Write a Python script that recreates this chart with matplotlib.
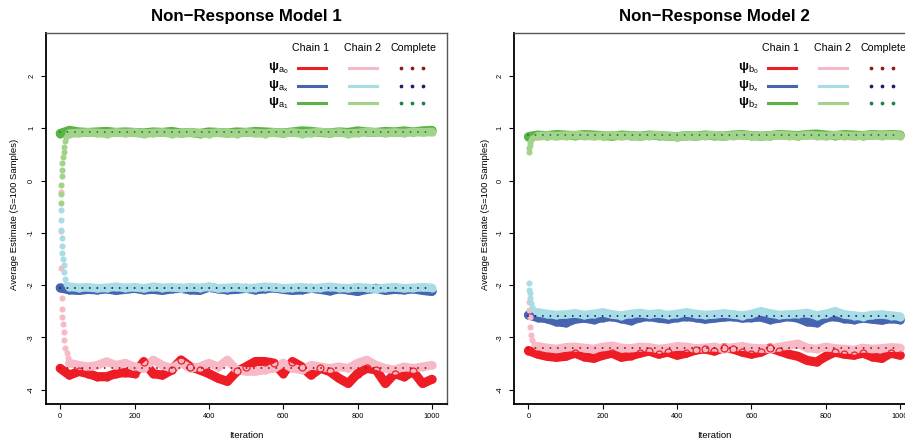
import numpy as np
import matplotlib
matplotlib.use("Agg")
import matplotlib.pyplot as plt
from matplotlib.lines import Line2D

plt.rcParams['font.family'] = ['Liberation Sans', 'DejaVu Sans']
plt.rcParams['mathtext.fontset'] = 'custom'
plt.rcParams['mathtext.rm'] = 'Liberation Sans'
plt.rcParams['mathtext.it'] = 'Liberation Sans:italic'
plt.rcParams['mathtext.bf'] = 'Liberation Sans:bold'
plt.rcParams['lines.scale_dashes'] = False

# ---------------- data ----------------
ITER = list(range(0, 1001, 25))          # chain 1 sampled iterations
ITER2 = ITER[1:]                          # chain 2 (after burn-in transient)

# Model 1
m1_early_it = [1, 2, 3, 4, 5, 6, 7, 9, 11, 13, 16, 20]
m1_early_it_a0 = [1, 2, 3, 4, 5, 6, 7, 9, 11, 14, 17, 21]
m1_a0_c1 = [-3.59, -3.72, -3.65, -3.69, -3.75, -3.75, -3.69, -3.67, -3.69, -3.46, -3.69,
            -3.72, -3.62, -3.43, -3.56, -3.62, -3.69, -3.78, -3.84, -3.65, -3.56, -3.46,
            -3.46, -3.49, -3.69, -3.46, -3.56, -3.72, -3.59, -3.65, -3.78, -3.88, -3.69,
            -3.59, -3.62, -3.88, -3.69, -3.75, -3.65, -3.88, -3.80]
m1_a0_c2_early = [-0.21, -0.97, -1.68, -2.25, -2.45, -2.60, -2.75, -2.90, -3.05, -3.20, -3.30, -3.40]
m1_a0_c2 = [-3.49, -3.53, -3.56, -3.53, -3.46, -3.53, -3.49, -3.56, -3.59, -3.43, -3.53,
            -3.59, -3.49, -3.59, -3.56, -3.49, -3.56, -3.43, -3.62, -3.65, -3.65, -3.62,
            -3.59, -3.49, -3.59, -3.62, -3.53, -3.56, -3.59, -3.56, -3.59, -3.49, -3.43,
            -3.53, -3.59, -3.62, -3.56, -3.59, -3.56, -3.53]
m1_a0_complete = -3.58

m1_ax_c1 = [-2.05, -2.09, -2.10, -2.08, -2.09, -2.07, -2.10, -2.08, -2.06, -2.09, -2.08,
            -2.10, -2.07, -2.06, -2.09, -2.10, -2.04, -2.07, -2.09, -2.08, -2.06, -2.09,
            -2.07, -2.05, -2.08, -2.10, -2.09, -2.06, -2.08, -2.11, -2.07, -2.09, -2.12,
            -2.08, -2.06, -2.10, -2.08, -2.09, -2.07, -2.10, -2.12]
m1_ax_c2_early = [-0.56, -0.75, -0.94, -1.10, -1.26, -1.39, -1.50, -1.62, -1.75, -1.88, -1.97, -2.00]
m1_ax_c2 = [-2.03, -2.05, -2.04, -2.06, -2.05, -2.03, -2.05, -2.04, -2.06, -2.03, -2.05,
            -2.04, -2.06, -2.04, -2.05, -2.03, -2.06, -2.05, -2.04, -2.06, -2.05, -2.03,
            -2.04, -2.06, -2.05, -2.04, -2.06, -2.05, -2.03, -2.05, -2.06, -2.04, -2.05,
            -2.07, -2.05, -2.04, -2.06, -2.05, -2.04, -2.05]
m1_ax_complete = -2.05

m1_a1_c1 = [0.90, 0.96, 0.93, 0.92, 0.93, 0.94, 0.92, 0.93, 0.92, 0.91, 0.93, 0.92, 0.94,
            0.91, 0.92, 0.90, 0.93, 0.92, 0.91, 0.93, 0.92, 0.94, 0.93, 0.92, 0.91, 0.93,
            0.95, 0.94, 0.92, 0.91, 0.93, 0.92, 0.95, 0.93, 0.92, 0.94, 0.93, 0.95, 0.93,
            0.95, 0.96]
m1_a1_c2_early = [-0.42, -0.25, -0.08, 0.08, 0.20, 0.33, 0.45, 0.55, 0.65, 0.75, 0.83, 0.88]
m1_a1_c2 = [0.90, 0.91, 0.92, 0.91, 0.90, 0.92, 0.91, 0.92, 0.90, 0.91, 0.92, 0.90, 0.91,
            0.92, 0.91, 0.90, 0.92, 0.91, 0.90, 0.92, 0.91, 0.90, 0.92, 0.91, 0.92, 0.90,
            0.91, 0.93, 0.91, 0.92, 0.90, 0.91, 0.93, 0.92, 0.91, 0.92, 0.91, 0.93, 0.92,
            0.93]
m1_a1_complete = 0.92

# Model 2
m2_early_it = [1, 2, 3, 5, 7, 10, 14, 19]
m2_b0_c1 = [-3.25, -3.32, -3.36, -3.38, -3.36, -3.30, -3.37, -3.40, -3.34, -3.30, -3.38,
            -3.35, -3.30, -3.26, -3.32, -3.28, -3.34, -3.30, -3.24, -3.22, -3.26, -3.20,
            -3.22, -3.28, -3.32, -3.28, -3.20, -3.26, -3.32, -3.36, -3.44, -3.47, -3.36,
            -3.28, -3.32, -3.34, -3.30, -3.37, -3.40, -3.30, -3.34]
m2_b0_c2_early = [-2.32, -2.48, -2.60, -2.80, -2.95, -3.05, -3.12, -3.15]
m2_b0_c2 = [-3.17, -3.20, -3.22, -3.19, -3.18, -3.20, -3.22, -3.18, -3.16, -3.20, -3.21,
            -3.18, -3.19, -3.22, -3.20, -3.17, -3.18, -3.21, -3.20, -3.18, -3.22, -3.19,
            -3.17, -3.20, -3.21, -3.22, -3.18, -3.15, -3.12, -3.20, -3.22, -3.18, -3.21,
            -3.22, -3.24, -3.20, -3.22, -3.21, -3.19, -3.20]
m2_b0_complete = -3.21

m2_bx_c1 = [-2.57, -2.62, -2.64, -2.70, -2.72, -2.65, -2.63, -2.66, -2.62, -2.60, -2.64,
            -2.68, -2.62, -2.60, -2.63, -2.65, -2.62, -2.60, -2.62, -2.65, -2.63, -2.61,
            -2.60, -2.63, -2.62, -2.61, -2.66, -2.63, -2.60, -2.63, -2.70, -2.72, -2.62,
            -2.60, -2.64, -2.66, -2.63, -2.65, -2.67, -2.64, -2.66]
m2_bx_c2_early = [-1.96, -2.10, -2.15, -2.25, -2.35, -2.42, -2.47, -2.50]
m2_bx_c2 = [-2.52, -2.55, -2.57, -2.56, -2.54, -2.57, -2.55, -2.52, -2.56, -2.58, -2.55,
            -2.53, -2.56, -2.54, -2.57, -2.55, -2.52, -2.55, -2.57, -2.56, -2.54, -2.56,
            -2.58, -2.55, -2.50, -2.54, -2.57, -2.56, -2.55, -2.53, -2.58, -2.55, -2.50,
            -2.56, -2.58, -2.60, -2.57, -2.56, -2.58, -2.60]
m2_bx_complete = -2.59

m2_b2_c1 = [0.84, 0.87, 0.86, 0.88, 0.87, 0.86, 0.88, 0.87, 0.86, 0.85, 0.87, 0.86, 0.85,
            0.87, 0.86, 0.85, 0.84, 0.86, 0.85, 0.87, 0.86, 0.85, 0.87, 0.88, 0.86, 0.85,
            0.86, 0.88, 0.87, 0.86, 0.88, 0.89, 0.87, 0.86, 0.88, 0.87, 0.86, 0.88, 0.87,
            0.88, 0.87]
m2_b2_c2_early = [0.55, 0.62, 0.68, 0.74, 0.78, 0.81, 0.83, 0.84]
m2_b2_c2 = [0.85, 0.86, 0.85, 0.86, 0.87, 0.86, 0.85, 0.86, 0.87, 0.85, 0.86, 0.85, 0.86,
            0.87, 0.85, 0.84, 0.86, 0.85, 0.86, 0.87, 0.85, 0.86, 0.87, 0.86, 0.85, 0.86,
            0.87, 0.86, 0.85, 0.87, 0.86, 0.85, 0.87, 0.86, 0.85, 0.86, 0.87, 0.86, 0.87,
            0.86]
m2_b2_complete = 0.87

titles = ["Non\u2212Response Model 1", "Non\u2212Response Model 2"]
legend_header = ["Chain 1", "Chain 2", "Complete"]
labels_m1 = [r'$\mathbf{\psi}_{\mathrm{a}_{\mathrm{0}}}$', r'$\mathbf{\psi}_{\mathrm{a}_{\mathrm{x}}}$',
             r'$\mathbf{\psi}_{\mathrm{a}_{\mathrm{1}}}$']
labels_m2 = [r'$\mathbf{\psi}_{\mathrm{b}_{\mathrm{0}}}$', r'$\mathbf{\psi}_{\mathrm{b}_{\mathrm{x}}}$',
             r'$\mathbf{\psi}_{\mathrm{b}_{\mathrm{2}}}$']
xticks = [0, 200, 400, 600, 800, 1000]
yticks = [-4, -3, -2, -1, 0, 1, 2]

# colours: (chain1, chain2, complete)
COLS = [("#EE1D25", "#F7B9C6", "#8E1B1B"),
        ("#4565B0", "#A9DDE6", "#1E1E6A"),
        ("#5AB443", "#A3D38B", "#1C8048")]

W, H = 905, 441
fig = plt.figure(figsize=(W / 100, H / 100), dpi=100)


def fx(px):
    return px / W


def fy(py):
    return 1 - py / H


def draw_panel(left_px, series, title, labels, leg_x, ylab_x):
    ax = fig.add_axes([fx(left_px), fy(404), 401 / W, (404 - 33) / H])
    ax.set_xlim(-39, 1040)
    ax.set_ylim(-4.272, 2.822)
    for k, ((c1, c2e_it, c2e, c2, comp), (col1, col2, colc)) in enumerate(zip(series, COLS)):
        ax.plot(ITER, c1, color=col1, lw=6.6, solid_capstyle='round',
                solid_joinstyle='round', zorder=2)
        # red open circles sit over the pink chain in the reference
        ax.plot(ITER, c1, ls='none', marker='o', ms=5.0, mfc='none', mec=col1,
                mew=0.9, zorder=3.5 if k == 0 else 2)
        ax.plot(c2e_it, c2e, ls='none', marker='o', ms=4.4, color=col2, mec='none', zorder=3)
        ax.plot(ITER2, c2, color=col2, lw=6.2, solid_capstyle='round',
                solid_joinstyle='round', zorder=3)
        ax.plot(ITER2, c2, ls='none', marker='o', ms=6.0, color=col2, mec='none', zorder=3)
        ax.plot([0, 1000], [comp, comp], color=colc, lw=1.4,
                ls=(0, (0.01, 5.36)), dash_capstyle='round', zorder=4)
    ax.set_xticks(xticks)
    ax.set_xticklabels([str(v) for v in xticks], fontsize=5.3)
    ax.set_yticks(yticks)
    ax.set_yticklabels([str(v) for v in yticks], fontsize=5.3, rotation=90, va='center')
    ax.tick_params(axis='both', length=3.6, width=0.8, color='black')
    ax.tick_params(axis='x', pad=3.0)
    ax.tick_params(axis='y', pad=4.0)
    for s in ['left', 'bottom']:
        ax.spines[s].set_linewidth(1.3)
        ax.spines[s].set_color('black')
    for s in ['top', 'right']:
        ax.spines[s].set_linewidth(1.0)
        ax.spines[s].set_color('#555555')
    ax.set_xlabel("Iteration", fontsize=6.8)
    ax.xaxis.set_label_coords(0.5, -0.084)
    ax.xaxis.label.set_va('center')
    ax.set_ylabel("Average Estimate (S=100 Samples)", fontsize=6.8)
    ax.yaxis.set_label_coords(ylab_x, 0.512)
    ax.yaxis.label.set_va('center')
    # title
    fig.text(fx(left_px + 200.5), fy(17), title, fontsize=12.2, fontweight='bold',
             ha='center', va='center')
    # legend (header + rows)
    hx = [leg_x + 32, leg_x + 84, leg_x + 135]
    for t, x in zip(legend_header, hx):
        fig.text(fx(x), fy(48), t, fontsize=7.7, ha='center', va='center')
    rows = [68, 86, 103]
    for lab, py, (col1, col2, colc) in zip(labels, rows, COLS):
        fig.text(fx(leg_x), fy(py), lab, fontsize=9.5, ha='center', va='center')
        fig.add_artist(Line2D([fx(leg_x + 20), fx(leg_x + 48)], [fy(py), fy(py)],
                              color=col1, lw=2.2, transform=fig.transFigure))
        fig.add_artist(Line2D([fx(leg_x + 71), fx(leg_x + 99)], [fy(py), fy(py)],
                              color=col2, lw=2.2, transform=fig.transFigure))
        fig.add_artist(Line2D([fx(leg_x + 123), fx(leg_x + 134), fx(leg_x + 145)],
                              [fy(py)] * 3, ls='none', marker='o', ms=1.7,
                              color=colc, transform=fig.transFigure))
    return ax


series1 = [(m1_a0_c1, m1_early_it_a0, m1_a0_c2_early, m1_a0_c2, m1_a0_complete),
           (m1_ax_c1, m1_early_it, m1_ax_c2_early, m1_ax_c2, m1_ax_complete),
           (m1_a1_c1, m1_early_it, m1_a1_c2_early, m1_a1_c2, m1_a1_complete)]
series2 = [(m2_b0_c1, m2_early_it, m2_b0_c2_early, m2_b0_c2, m2_b0_complete),
           (m2_bx_c1, m2_early_it, m2_bx_c2_early, m2_bx_c2, m2_bx_complete),
           (m2_b2_c1, m2_early_it, m2_b2_c2_early, m2_b2_c2, m2_b2_complete)]

draw_panel(45.7, series1, titles[0], labels_m1, 278, -0.077)
draw_panel(514.0, series2, titles[1], labels_m2, 748, -0.072)

fig.savefig("out.png", dpi=100)
